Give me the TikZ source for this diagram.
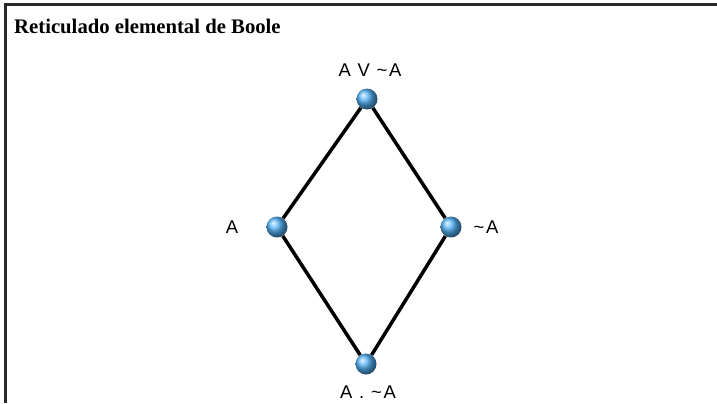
\documentclass[tikz,border=0pt]{standalone}
\usepackage{fontspec}
\setmainfont{Liberation Serif}
\setsansfont{Liberation Sans}
\usetikzlibrary{positioning}
\definecolor{ballblue}{RGB}{85,180,248}
\definecolor{framegray}{RGB}{40,40,40}

\begin{document}
\begin{tikzpicture}[x=1bp, y=-1bp,
  ball/.style={circle, minimum size=21bp, inner sep=0pt, shading=ball, ball color=ballblue},
  lbl/.style={font=\sffamily\fontsize{18.5}{18.5}\selectfont\addfontfeature{LetterSpace=9}, inner sep=0pt},
  edge/.style={line width=3.5bp, black}
]
  \useasboundingbox (0,0) rectangle (717,403);
  \draw[line width=3bp, framegray] (5,403) -- (5,4) -- (717,4);
  \node[anchor=base west, font=\bfseries\fontsize{20.8}{20.8}\selectfont, inner sep=0pt] (title) at (14,33) {Reticulado elemental de Boole};

  % lattice
  \node[ball] (top) at (367,99) {};
  \node[ball] (left) at (277,227) {};
  \node[ball] (right) at (451,227) {};
  \node[ball] (bottom) at (366,364) {};
  \draw[edge] (top) -- (left) -- (bottom) -- (right) -- (top);

  % labels
  \node[lbl] (ltop) at (370,70) {A V \textasciitilde A};
  \node[lbl] (lleft) at (232,227) {A};
  \node[lbl] (lright) at (486,227) {\textasciitilde A};
  \node[lbl] (lbottom) at (368,392) {A . \textasciitilde A};
\end{tikzpicture}
\end{document}
